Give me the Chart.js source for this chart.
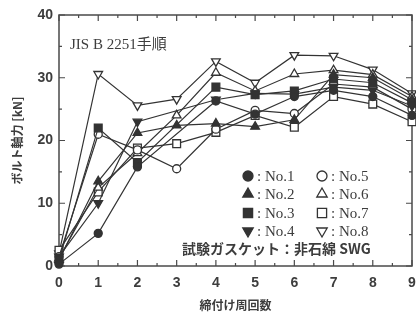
<!DOCTYPE html>
<html>
<head>
<meta charset="utf-8">
<script src="https://cdn.jsdelivr.net/npm/chart.js"></script>
<style>
html, body { margin: 0; padding: 0; background: #fff; overflow: hidden; }
#wrap { position: relative; width: 416px; height: 317px; overflow: hidden; }
#boltChart { position: absolute; left: 0; top: 0; }
</style>
</head>
<body>
<div id="wrap"><canvas id="boltChart" width="440" height="317"></canvas></div>
<script>
// 締付け周回数ごとのボルト軸力 [kN]
const rounds = [0, 1, 2, 3, 4, 5, 6, 7, 8, 9];
const no1 = [0.3, 5.2, 15.8, null, 26.3, 24.2, 27.0, 28.0, 27.0, 24.0];
const no2 = [1.0, 13.5, 21.2, 22.4, 22.7, 22.2, 23.3, 30.5, 30.0, 26.5];
const no3 = [1.0, 22.0, 16.5, null, 28.5, 27.3, 27.9, 29.8, 29.2, 26.0];
const no4 = [1.5, 10.0, 23.0, null, 26.5, 27.5, 27.4, 28.5, 28.0, 25.5];
const no5 = [1.5, 21.0, 18.5, 15.5, 21.8, 24.8, 24.3, 29.0, 28.5, 25.0];
const no6 = [1.2, 12.5, 18.0, 24.0, 30.8, 27.9, 30.6, 31.2, 30.5, 27.0];
const no7 = [2.5, 11.8, 18.8, 19.5, 21.3, 24.0, 22.1, 27.0, 25.8, 23.0];
const no8 = [2.0, 30.6, 25.6, 26.6, 32.6, 29.2, 33.6, 33.5, 31.3, 27.5];

const seriesNames = ['No.1', 'No.2', 'No.3', 'No.4', 'No.5', 'No.6', 'No.7', 'No.8'];
const seriesValues = [no1, no2, no3, no4, no5, no6, no7, no8];
const yTickValues = [0, 10, 20, 30, 40];

const ink = '#333333';
const textInk = '#3d3d3d';

// マーカー: ● ▲ ■ ▼ ○ △ □ ▽
const markerStyles = [
    { style: 'circle', rot: 0, filled: true, r: 4 },
    { style: 'triangle', rot: 0, filled: true, r: 5 },
    { style: 'rect', rot: 0, filled: true, r: 5.5 },
    { style: 'triangle', rot: 180, filled: true, r: 5 },
    { style: 'circle', rot: 0, filled: false, r: 4 },
    { style: 'triangle', rot: 0, filled: false, r: 5 },
    { style: 'rect', rot: 0, filled: false, r: 5.5 },
    { style: 'triangle', rot: 180, filled: false, r: 5 }
];

const datasets = seriesNames.map((name, i) => {
    const m = markerStyles[i];
    return {
        label: name,
        data: rounds.map((x, j) => ({ x: x, y: seriesValues[i][j] })),
        borderColor: ink,
        borderWidth: 1.2,
        pointStyle: m.style,
        rotation: m.rot,
        pointRadius: m.r,
        pointBorderWidth: 1.3,
        pointBorderColor: ink,
        pointBackgroundColor: m.filled ? ink : '#ffffff',
        spanGaps: true,
        tension: 0,
        clip: false
    };
});

// 枠と内向きの目盛り
const frameTicks = {
    id: 'frameTicks',
    beforeDatasetsDraw(chart) {
        const { ctx, chartArea: a, scales } = chart;
        const xs = scales.x, ys = scales.y;
        ctx.save();
        ctx.strokeStyle = '#4a4a4a';
        ctx.lineWidth = 1.5;
        ctx.strokeRect(a.left, a.top, a.right - a.left, a.bottom - a.top);
        ctx.lineWidth = 1.2;
        ctx.beginPath();
        for (let v = 0; v <= 9; v += 0.5) {
            const px = xs.getPixelForValue(v);
            const len = Number.isInteger(v) ? 6 : 3;
            ctx.moveTo(px, a.bottom); ctx.lineTo(px, a.bottom - len);
            ctx.moveTo(px, a.top); ctx.lineTo(px, a.top + len);
        }
        for (let v = 0; v <= 40; v += 5) {
            const py = ys.getPixelForValue(v);
            const len = v % 10 === 0 ? 6 : 3;
            ctx.moveTo(a.left, py); ctx.lineTo(a.left + len, py);
            ctx.moveTo(a.right, py); ctx.lineTo(a.right - len, py);
        }
        ctx.stroke();
        ctx.restore();
    }
};

// 凡例と注記
const notes = {
    id: 'notes',
    afterDraw(chart) {
        const ctx = chart.ctx;
        ctx.save();
        ctx.fillStyle = textInk;
        ctx.textBaseline = 'middle';
        ctx.textAlign = 'left';
        ctx.font = "15px 'Liberation Serif', 'Noto Sans CJK JP'";
        ctx.fillText('JIS B 2251手順', 70, 45);

        const rowsY = [176, 194, 213, 231];
        const cols = [{ mx: 248, tx: 257 }, { mx: 322, tx: 331 }];
        seriesNames.forEach((name, i) => {
            const m = markerStyles[i];
            const col = cols[Math.floor(i / 4)];
            const y = rowsY[i % 4];
            ctx.fillStyle = m.filled ? ink : '#ffffff';
            ctx.strokeStyle = ink;
            ctx.lineWidth = 1.3;
            Chart.helpers.drawPoint(ctx, {
                pointStyle: m.style, rotation: m.rot,
                radius: m.r + 1, borderWidth: 1.3
            }, col.mx, y);
            ctx.fillStyle = textInk;
            ctx.font = "15px 'Liberation Serif'";
            ctx.fillText(': ' + name, col.tx, y + 1);
        });
        ctx.font = "bold 14px 'Noto Sans CJK JP'";
        ctx.fillText('試験ガスケット：非石綿 SWG', 182, 249);
        ctx.restore();
    }
};

const ctx = document.getElementById('boltChart').getContext('2d');
const boltChart = new Chart(ctx, {
    type: 'line',
    data: { datasets: datasets },
    options: {
        responsive: false,
        animation: false,
        layout: { padding: { top: 15, right: 28, left: 0, bottom: 0 } },
        plugins: { legend: { display: false }, tooltip: { enabled: false } },
        scales: {
            x: {
                type: 'linear',
                min: 0,
                max: 9,
                grid: { display: false, drawTicks: false },
                border: { display: false },
                afterFit(scale) { scale.height = 51; },
                ticks: {
                    stepSize: 1,
                    padding: 9,
                    color: textInk,
                    font: { family: "'Liberation Sans'", size: 14, weight: 'bold' }
                },
                title: {
                    display: true,
                    text: '締付け周回数',
                    color: textInk,
                    padding: { top: 0, bottom: 4 },
                    font: { family: "'Noto Sans CJK JP'", size: 12, weight: 'bold' }
                }
            },
            y: {
                min: 0,
                max: 40,
                grid: { display: false, drawTicks: false },
                border: { display: false },
                afterFit(scale) { scale.width = 59; },
                afterBuildTicks(scale) {
                    scale.ticks = yTickValues.map(v => ({ value: v }));
                },
                ticks: {
                    padding: 6,
                    color: textInk,
                    font: { family: "'Liberation Sans'", size: 14, weight: 'bold' }
                },
                title: {
                    display: true,
                    text: 'ボルト軸力 [kN]',
                    color: textInk,
                    padding: { top: 10, bottom: 0 },
                    font: { family: "'Noto Sans CJK JP'", size: 12, weight: 'bold' }
                }
            }
        }
    },
    plugins: [frameTicks, notes]
});
</script>
</body>
</html>
